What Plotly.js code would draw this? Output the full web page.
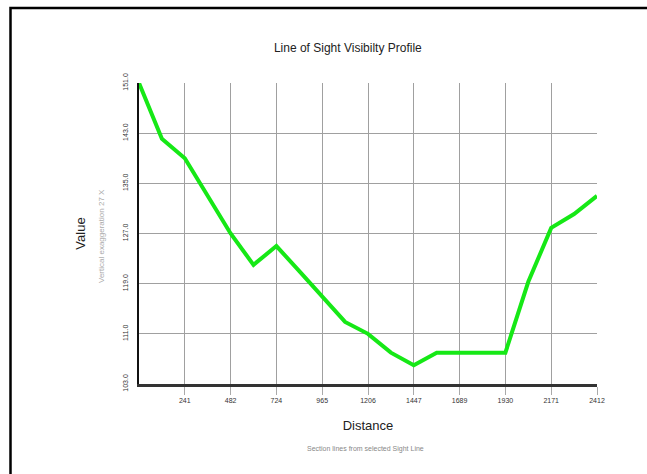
<!DOCTYPE html>
<html>
<head>
<meta charset="utf-8">
<script src="https://cdn.plot.ly/plotly-3.0.1.min.js"></script>
<style>
html,body{margin:0;padding:0;background:#fff;overflow:hidden;}
#chart{width:647px;height:474px;}
</style>
</head>
<body>
<div id="chart"></div>
<script>
// Data
const distance = [0, 120.6, 241.2, 361.8, 482.4, 603, 723.6, 844.2, 964.8, 1085.4, 1206, 1326.6, 1447.2, 1567.8, 1688.4, 1809, 1929.6, 2050.2, 2170.8, 2291.4, 2412];
const value = [151.0, 142.1, 139.0, 133.0, 127.0, 122.0, 125.0, 121.0, 117.0, 112.9, 111.0, 108.0, 106.0, 108.0, 108.0, 108.0, 108.0, 119.3, 127.9, 130.1, 133.0];
const xTickVals = [241.2, 482.4, 723.6, 964.8, 1206, 1447.2, 1688.4, 1929.6, 2170.8, 2412];
const xTickText = ["241", "482", "724", "965", "1206", "1447", "1689", "1930", "2171", "2412"];
const yTickVals = [103, 111, 119, 127, 135, 143, 151];
const yTickText = ["103.0", "111.0", "119.0", "127.0", "135.0", "143.0", "151.0"];

const FONT = "Liberation Sans, Arial, sans-serif";

const trace = {
  x: distance, y: value, type: 'scatter', mode: 'lines',
  line: {color: '#16e816', width: 4},
  hoverinfo: 'skip'
};

const layout = {
  width: 647, height: 474,
  margin: {l: 139, r: 50, t: 83, b: 90},
  paper_bgcolor: '#ffffff', plot_bgcolor: '#ffffff',
  showlegend: false,
  font: {family: FONT, color: '#222'},
  title: {
    text: 'Line of Sight Visibilty Profile',
    font: {family: FONT, size: 12, color: '#222'},
    xref: 'paper', x: 0.456, xanchor: 'center',
    yref: 'container', y: 1 - 48/474, yanchor: 'middle'
  },
  xaxis: {
    range: [0, 2412],
    tickmode: 'array', tickvals: xTickVals, ticktext: xTickText,
    tickfont: {family: FONT, size: 7, color: '#333'},
    ticks: 'outside', ticklen: 8, tickcolor: '#aaa', tickwidth: 1,
    showgrid: true, gridcolor: '#a0a0a0', gridwidth: 1,
    showline: true, linecolor: '#333', linewidth: 3,
    zeroline: false,
    title: {text: 'Distance', font: {family: FONT, size: 13, color: '#222'}, standoff: 18},
    automargin: false
  },
  yaxis: {
    range: [103, 151],
    tickmode: 'array', tickvals: yTickVals, ticktext: yTickText,
    tickangle: -90,
    tickfont: {family: FONT, size: 7, color: '#333'},
    ticks: '', ticklen: 0,
    ticklabelstandoff: 6,
    showgrid: true, gridcolor: '#a0a0a0', gridwidth: 1,
    showline: true, linecolor: '#111', linewidth: 2,
    zeroline: false,
    title: {text: 'Value', font: {family: FONT, size: 13, color: '#222'}, standoff: 34},
    automargin: false
  },
  annotations: [
    {text: 'Vertical exaggeration 27 X', xref: 'paper', yref: 'paper',
     x: (101 - 139)/458, y: (384 - 236)/301, xanchor: 'center', yanchor: 'middle',
     textangle: -90, showarrow: false, font: {family: FONT, size: 8, color: '#aaa'}},
    {text: 'Section lines from selected Sight Line', xref: 'paper', yref: 'paper',
     x: (365 - 139)/458, y: (384 - 449)/301, xanchor: 'center', yanchor: 'middle',
     showarrow: false, font: {family: FONT, size: 7, color: '#888'}}
  ],
  shapes: [
    {type: 'rect', xref: 'paper', yref: 'paper',
     x0: (10.5 - 139)/458, x1: 3, y0: -3, y1: (384 - 8)/301,
     line: {color: '#000', width: 2.5}, fillcolor: 'rgba(0,0,0,0)', layer: 'above'}
  ]
};

Plotly.newPlot('chart', [trace], layout, {displayModeBar: false, staticPlot: true});
</script>
</body>
</html>
